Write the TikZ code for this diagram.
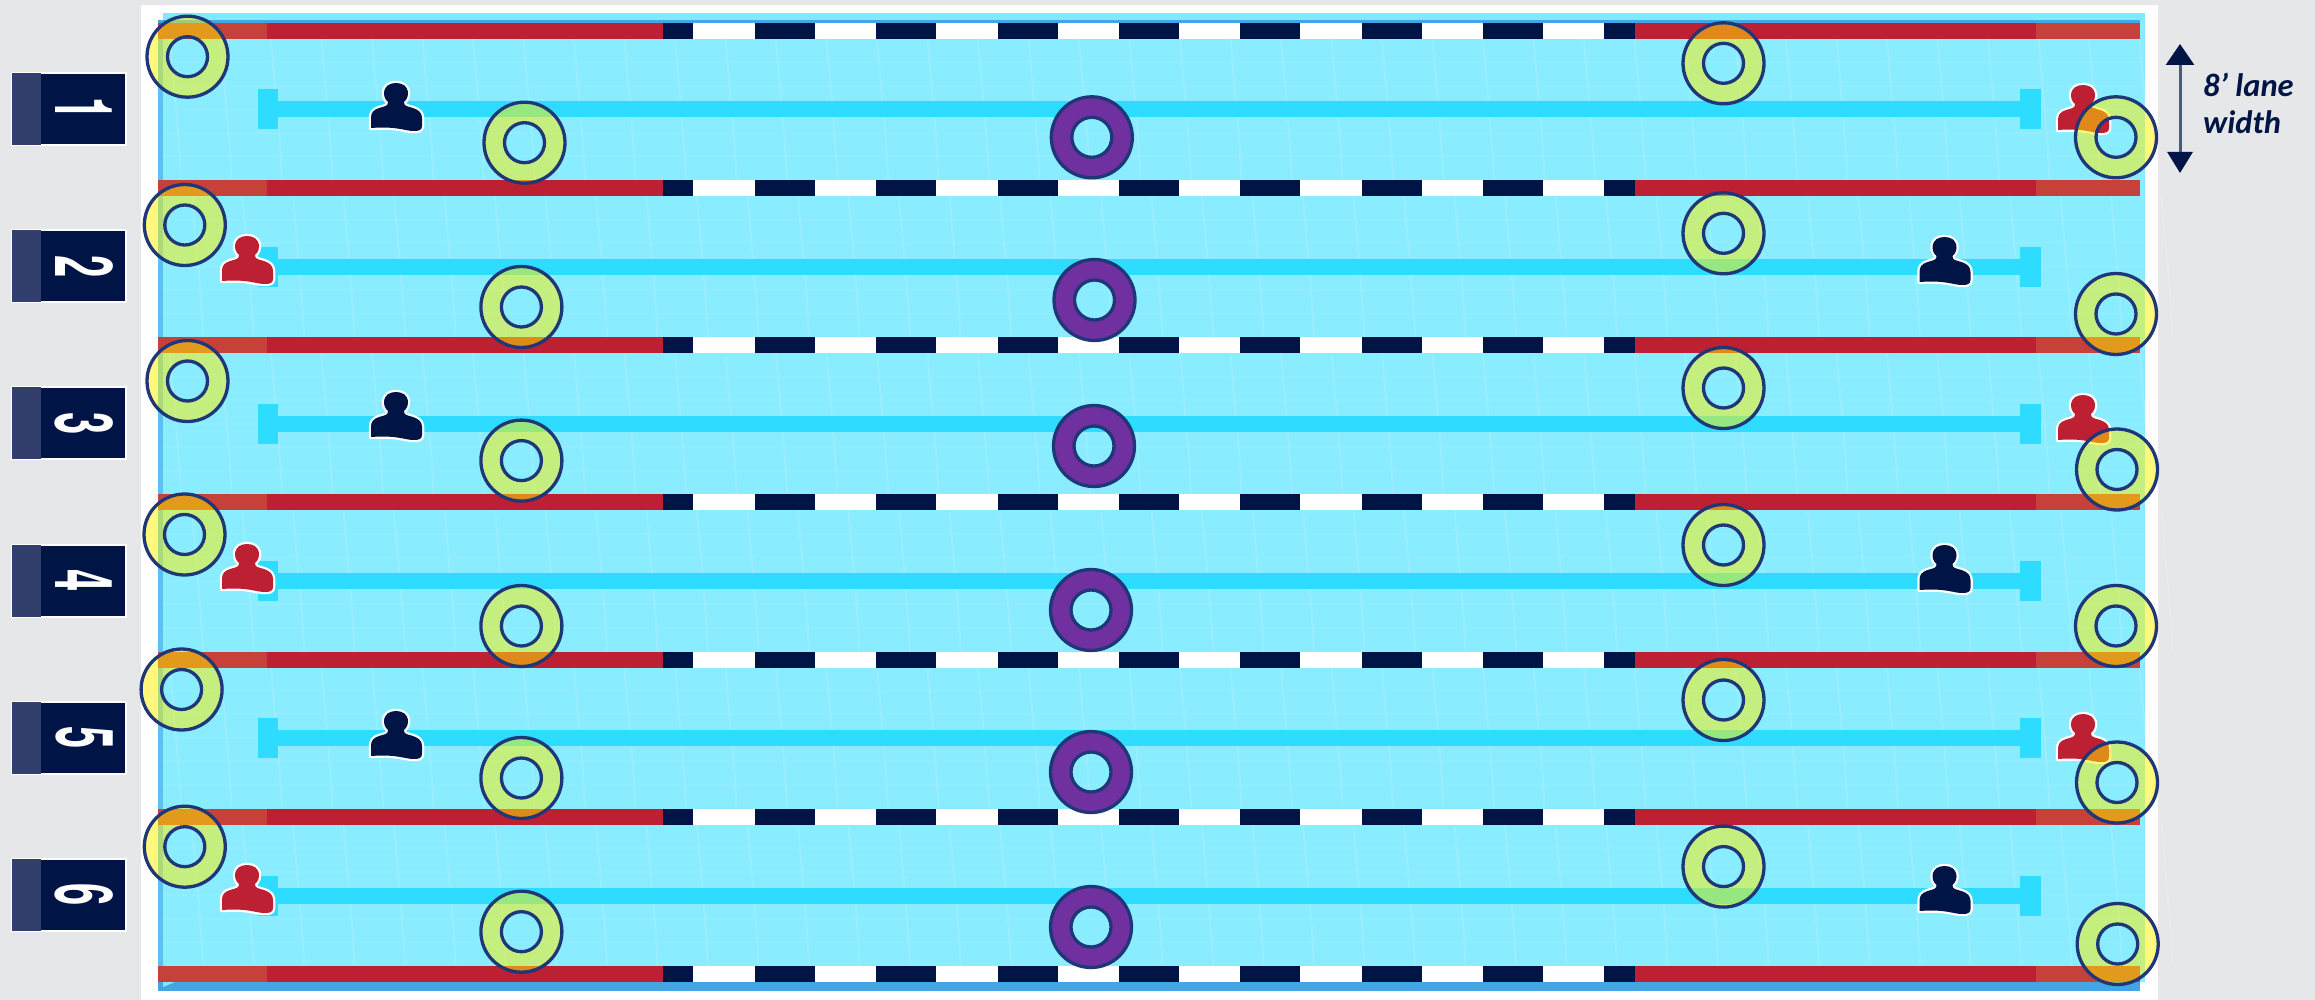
\documentclass[tikz,border=0pt]{standalone}
\usepackage{fontspec}
\setmainfont{Carlito}
\newfontfamily\digitfont{TeX Gyre Heros}
\usetikzlibrary{arrows.meta}
\definecolor{pagegray}{HTML}{E6E7E9}
\definecolor{water}{HTML}{89ECFF}
\definecolor{topwater}{HTML}{7FE9FF}
\definecolor{laneline}{HTML}{2DDCFF}
\definecolor{edgeblue}{HTML}{42A5E5}
\definecolor{sideblue}{HTML}{5CC0F5}
\definecolor{ropered}{HTML}{BE2033}
\definecolor{ropefade}{HTML}{C5413A}
\definecolor{navy}{HTML}{001446}
\definecolor{tabfade}{HTML}{323F6C}
\definecolor{ringline}{HTML}{1F3678}
\definecolor{ringpurple}{HTML}{7030A0}
\definecolor{shaft}{HTML}{4A5A85}
\tikzset{
  x=1pt,y=-1pt,
  ringfill/.style={fill=yellow,fill opacity=.5,even odd rule},
  ringedge/.style={draw=ringline,line width=3.3},
  texture/.style={draw=white,draw opacity=.13,line width=2},
  lanebar/.style={fill=laneline},
  pics/person/.style={code={
    \path[fill=#1,preaction={draw=white,line width=4.5,line join=round}]
      (-25,22) -- (-25,12) .. controls (-25,7) and (-23,4) .. (-17,2)
      .. controls (-10,0) and (-8,0) .. (-8,-4)
      .. controls (-14.5,-9) and (-14,-23) .. (0,-23)
      .. controls (14,-23) and (14.5,-9) .. (8,-4)
      .. controls (8,0) and (10,0) .. (17,2)
      .. controls (23,4) and (26,7) .. (26,12)
      -- (26,20) .. controls (26,24) and (23,25) .. (18,25)
      .. controls (8,25) and (2,20) .. (-25,22) -- cycle;
  }},
  numtab/.style={font=\digitfont\bfseries\fontsize{80}{80}\selectfont,text=white,rotate=-90,inner sep=0pt}
}
\newcommand{\gring}[2]{%
  \fill[ringfill] (#1,#2) circle (40.5pt) (#1,#2) circle (20pt);
  \draw[ringedge] (#1,#2) circle (40.5pt) (#1,#2) circle (20pt);}
\newcommand{\pring}[2]{%
  \fill[ringpurple,even odd rule] (#1,#2) circle (40.5pt) (#1,#2) circle (20pt);
  \draw[ringedge] (#1,#2) circle (40.5pt) (#1,#2) circle (20pt);}
\begin{document}
\begin{tikzpicture}
\useasboundingbox (0,0) rectangle (2315,1000);
\fill[pagegray] (0,0) rectangle (2315,1000);
\fill[white] (141,5) rectangle (2158,1000);
% water
\fill[water] (163,13) rectangle (2145,982);
\fill[topwater] (163,13) rectangle (2145,20);
\fill[sideblue] (158,20) rectangle (163,991);
% texture
\foreach \r in {0,...,5}{
  \pgfmathsetmacro{\t}{39+157.1*\r}
  \pgfmathsetmacro{\b}{\t+141}
  \pgfmathsetmacro{\off}{mod(\r,2)*22}
  \foreach \k in {0,...,39}{
    \pgfmathsetmacro{\xa}{170+\off+50.5*\k}
    \draw[texture] (\xa,\t) .. controls (\xa+4,\t+50) and (\xa+9,\t+95) .. (\xa+11,\b);
  }
  \foreach \k in {1,...,5}{
    \pgfmathsetmacro{\ya}{\t+23.5*\k}
    \draw[texture,draw opacity=.06] (163,\ya) -- (2145,\ya);
  }
}
% lane lines
\foreach \r in {0,...,5}{
  \pgfmathsetmacro{\c}{109.5+157.2*\r}
  \fill[lanebar] (277,\c-8) rectangle (2021,\c+8);
  \fill[lanebar] (257.5,\c-20) rectangle (277.5,\c+20);
  \fill[lanebar] (2020,\c-20) rectangle (2040.5,\c+20);
}
% ropes
\foreach \r in {0,...,6}{
  \pgfmathsetmacro{\t}{23.3+157.05*\r}
  \pgfmathsetmacro{\b}{\t+16}
  \fill[ropefade] (158,\t) rectangle (2140,\b);
  \fill[ropered] (267,\t) rectangle (2036,\b);
  \fill[white] (663,\t) rectangle (1635,\b);
  \fill[navy] (663,\t) rectangle (693,\b);
  \fill[navy] (1604,\t) rectangle (1635,\b);
  \foreach \k in {0,...,6}{
    \pgfmathsetmacro{\xa}{755+121.3*\k}
    \fill[navy] (\xa,\t) rectangle (\xa+60,\b);
  }
}
\fill[edgeblue] (158,20) rectangle (2140,23.3);
\fill[edgeblue] (158,981.5) rectangle (2140,991);
\fill[topwater] (163,982) -- (175,982) -- (163,987) -- cycle;
% swimmers
\pic at (396,106) {person=navy};
\pic at (2083,108) {person=ropered};
\pic at (247,259) {person=ropered};
\pic at (1944.5,260) {person=navy};
\pic at (396,415) {person=navy};
\pic at (2083,418) {person=ropered};
\pic at (247,567) {person=ropered};
\pic at (1944.5,568) {person=navy};
\pic at (396,734) {person=navy};
\pic at (2083,737) {person=ropered};
\pic at (247,888) {person=ropered};
\pic at (1944.5,889) {person=navy};
% rings
\gring{187.5}{56.7}\gring{524.5}{142.7}\pring{1091.8}{137.3}\gring{1723.5}{63.3}\gring{2116}{137.3}
\gring{184.8}{225}\gring{521.4}{307}\pring{1094.5}{300}\gring{1723.5}{233.3}\gring{2116}{314}
\gring{187.5}{381}\gring{521.4}{460.6}\pring{1094}{446}\gring{1723.5}{388}\gring{2117}{469.5}
\gring{184.5}{534.5}\gring{521.4}{626}\pring{1091}{610}\gring{1723.5}{545}\gring{2116}{626}
\gring{181.6}{689.5}\gring{521.4}{778}\pring{1091}{772}\gring{1723.5}{700}\gring{2117}{782.5}
\gring{184.8}{846.7}\gring{521.4}{931.7}\pring{1091}{927}\gring{1723.5}{866.6}\gring{2117.7}{944}
% lane tabs
\foreach \n in {1,...,6}{
  \pgfmathsetmacro{\c}{109+157.2*(\n-1)}
  \fill[navy,draw=white,line width=2] (12,\c-36) rectangle (126,\c+36);
  \fill[tabfade] (12,\c-36) rectangle (41,\c+36);
  \node[numtab] (tab\n) at (84,\c) {\scalebox{.5}[1]{\n}};
}
% width arrow
\coordinate (widthtop) at (2180,44);
\coordinate (widthbot) at (2180,173);
\draw[shaft,line width=3,{Triangle[length=21,width=28,color=navy,fill=navy]}-{Triangle[length=21,width=25,color=navy,fill=navy]}] (widthtop) -- (widthbot);
\node[anchor=base west,inner sep=0pt,text=navy,font=\fontsize{32.5}{32.5}\selectfont\bfseries\itshape] (lanelabel1) at (2203,97) {8’ lane};
\node[anchor=base west,inner sep=0pt,text=navy,font=\fontsize{32.5}{32.5}\selectfont\bfseries\itshape] (lanelabel2) at (2203,134) {width};
\end{tikzpicture}
\end{document}
